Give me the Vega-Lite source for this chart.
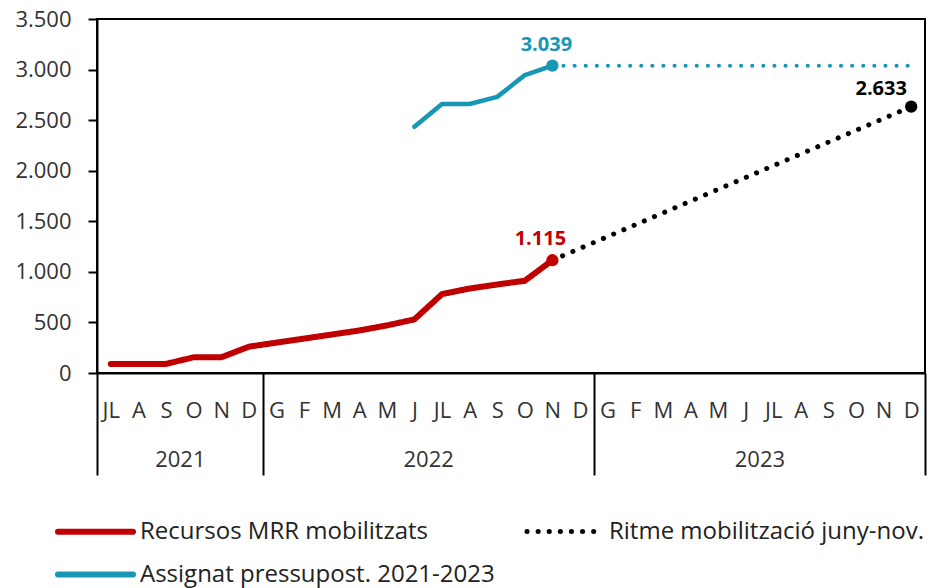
{
  "$schema": "https://vega.github.io/schema/vega-lite/v6.json",
  "width": 828,
  "height": 354,
  "autosize": {"type": "none"},
  "padding": {"left": 97, "top": 19, "right": 5, "bottom": 215},
  "config": {
    "font": "Open Sans",
    "locale": {"number": {"decimal": ",", "thousands": ".", "grouping": [3], "currency": ["", " €"]}},
    "view": {"stroke": "black", "strokeWidth": 2},
    "axis": {"labelFont": "Open Sans", "labelFontSize": 22, "labelColor": "#333333", "grid": false},
    "legend": {
      "labelFont": "Open Sans", "labelFontSize": 24, "labelColor": "#222222", "labelLimit": 600,
      "symbolType": "stroke", "symbolSize": 5625, "symbolStrokeWidth": 6, "labelOffset": 4
    }
  },
  "datasets": {
    "main": [
      {"m": 0, "s": "Recursos MRR mobilitzats", "v": 90},
      {"m": 1, "s": "Recursos MRR mobilitzats", "v": 90},
      {"m": 2, "s": "Recursos MRR mobilitzats", "v": 90},
      {"m": 3, "s": "Recursos MRR mobilitzats", "v": 155},
      {"m": 4, "s": "Recursos MRR mobilitzats", "v": 155},
      {"m": 5, "s": "Recursos MRR mobilitzats", "v": 260},
      {"m": 6, "s": "Recursos MRR mobilitzats", "v": 300},
      {"m": 7, "s": "Recursos MRR mobilitzats", "v": 340},
      {"m": 8, "s": "Recursos MRR mobilitzats", "v": 380},
      {"m": 9, "s": "Recursos MRR mobilitzats", "v": 420},
      {"m": 10, "s": "Recursos MRR mobilitzats", "v": 470},
      {"m": 11, "s": "Recursos MRR mobilitzats", "v": 530},
      {"m": 12, "s": "Recursos MRR mobilitzats", "v": 780},
      {"m": 13, "s": "Recursos MRR mobilitzats", "v": 835},
      {"m": 14, "s": "Recursos MRR mobilitzats", "v": 875},
      {"m": 15, "s": "Recursos MRR mobilitzats", "v": 912},
      {"m": 16, "s": "Recursos MRR mobilitzats", "v": 1115},
      {"m": 11, "s": "Assignat pressupost. 2021-2023", "v": 2435},
      {"m": 12, "s": "Assignat pressupost. 2021-2023", "v": 2660},
      {"m": 13, "s": "Assignat pressupost. 2021-2023", "v": 2660},
      {"m": 14, "s": "Assignat pressupost. 2021-2023", "v": 2730},
      {"m": 15, "s": "Assignat pressupost. 2021-2023", "v": 2945},
      {"m": 16, "s": "Assignat pressupost. 2021-2023", "v": 3039},
      {"m": 16, "s": "Ritme mobilització juny-nov.", "v": 1115},
      {"m": 29, "s": "Ritme mobilització juny-nov.", "v": 2633}
    ],
    "ext": [
      {"m": 16, "v": 3039},
      {"m": 29, "v": 3039}
    ]
  },
  "resolve": {"axis": {"x": "independent"}},
  "layer": [
    {
      "data": {"name": "main"},
      "transform": [{"filter": "datum.s != 'Assignat pressupost. 2021-2023'"}],
      "mark": {"type": "line", "strokeCap": "round", "strokeJoin": "round"},
      "encoding": {
        "x": {
          "field": "m", "type": "quantitative", "title": null,
          "scale": {"domain": [-0.5, 29.5], "nice": false, "zero": false},
          "axis": {
            "orient": "bottom",
            "values": [0,1,2,3,4,5,6,7,8,9,10,11,12,13,14,15,16,17,18,19,20,21,22,23,24,25,26,27,28,29],
            "labelExpr": "['JL','A','S','O','N','D','G','F','M','A','M','J','JL','A','S','O','N','D','G','F','M','A','M','J','JL','A','S','O','N','D'][datum.value]",
            "ticks": false, "domain": true, "domainColor": "black", "domainWidth": 2,
            "labelPadding": 27, "labelOverlap": false, "labelFlush": false, "labelBound": false
          }
        },
        "y": {
          "field": "v", "type": "quantitative", "title": null,
          "scale": {"domain": [0, 3500], "nice": false},
          "axis": {
            "values": [0, 500, 1000, 1500, 2000, 2500, 3000, 3500],
            "format": ",d", "tickSize": 9, "tickWidth": 2, "tickColor": "black",
            "domainColor": "black", "domainWidth": 2, "labelPadding": 17
          }
        },
        "color": {
          "field": "s", "type": "nominal",
          "scale": {
            "domain": ["Recursos MRR mobilitzats", "Ritme mobilització juny-nov."],
            "range": ["#c00000", "#000000"]
          },
          "legend": {
            "orient": "none", "legendX": -42, "legendY": 472, "columns": 2, "direction": "horizontal",
            "columnPadding": 89, "title": null,
            "encode": {"symbols": {"update": {"strokeCap": {"value": "round"}, "strokeWidth": {"value": 6}}}}
          }
        },
        "strokeDash": {
          "field": "s", "type": "nominal",
          "scale": {
            "domain": ["Recursos MRR mobilitzats", "Ritme mobilització juny-nov."],
            "range": [[1, 0], [0.1, 11]]
          }
        },
        "strokeWidth": {
          "field": "s", "type": "nominal",
          "scale": {
            "domain": ["Recursos MRR mobilitzats", "Ritme mobilització juny-nov."],
            "range": [6, 5]
          },
          "legend": null
        }
      }
    },
    {
      "data": {"name": "main"},
      "transform": [{"filter": "datum.s == 'Assignat pressupost. 2021-2023'"}],
      "mark": {"type": "line", "strokeCap": "round", "strokeJoin": "round", "strokeWidth": 4.5},
      "encoding": {
        "x": {"field": "m", "type": "quantitative", "axis": null},
        "y": {"field": "v", "type": "quantitative", "title": null},
        "stroke": {
          "field": "s", "type": "nominal",
          "scale": {"domain": ["Assignat pressupost. 2021-2023"], "range": ["#1897b5"]},
          "legend": {
            "orient": "none", "legendX": -42, "legendY": 515, "title": null,
            "encode": {"symbols": {"update": {"strokeCap": {"value": "round"}}}}
          }
        }
      }
    },
    {
      "data": {"name": "ext"},
      "mark": {"type": "line", "color": "#1897b5", "strokeWidth": 4, "strokeDash": [0.1, 11], "strokeCap": "round"},
      "encoding": {
        "x": {
          "field": "m", "type": "quantitative", "title": null,
          "scale": {"domain": [-0.5, 29.5], "nice": false, "zero": false},
          "axis": {
            "orient": "bottom", "values": [2.5, 11.5, 23.5],
            "labelExpr": "datum.value < 5 ? '2021' : datum.value < 15 ? '2022' : '2023'",
            "ticks": false, "domain": false, "labelPadding": 76,
            "labelOverlap": false, "labelFlush": false, "labelBound": false
          }
        },
        "y": {"field": "v", "type": "quantitative", "title": null}
      }
    },
    {
      "data": {"name": "main"},
      "transform": [{"filter": "(datum.m == 16 && datum.s != 'Ritme mobilització juny-nov.') || datum.m == 29"}],
      "mark": {"type": "circle", "size": 150, "opacity": 1},
      "encoding": {
        "x": {
          "field": "m", "type": "quantitative", "title": null,
          "scale": {"domain": [-0.5, 29.5], "nice": false, "zero": false},
          "axis": {
            "orient": "bottom", "values": [-0.5, 5.5, 17.5, 29.5],
            "labels": false, "ticks": true, "tickSize": 102, "tickWidth": 2, "tickColor": "black",
            "domain": false
          }
        },
        "y": {"field": "v", "type": "quantitative", "title": null},
        "fill": {
          "field": "s", "type": "nominal",
          "scale": {
            "domain": ["Recursos MRR mobilitzats", "Ritme mobilització juny-nov.", "Assignat pressupost. 2021-2023"],
            "range": ["#c00000", "#000000", "#1897b5"]
          },
          "legend": null
        }
      }
    },
    {
      "data": {"name": "main"},
      "transform": [{"filter": "datum.m == 16 && datum.s == 'Recursos MRR mobilitzats'"}],
      "mark": {"type": "text", "color": "#c00000", "fontWeight": "bold", "fontSize": 20, "dx": -12, "dy": -21},
      "encoding": {
        "x": {"field": "m", "type": "quantitative", "axis": null},
        "y": {"field": "v", "type": "quantitative"},
        "text": {"field": "v", "type": "quantitative", "format": ",d"}
      }
    },
    {
      "data": {"name": "main"},
      "transform": [{"filter": "datum.m == 16 && datum.s == 'Assignat pressupost. 2021-2023'"}],
      "mark": {"type": "text", "color": "#1897b5", "fontWeight": "bold", "fontSize": 20, "dx": -6, "dy": -21},
      "encoding": {
        "x": {"field": "m", "type": "quantitative", "axis": null},
        "y": {"field": "v", "type": "quantitative"},
        "text": {"field": "v", "type": "quantitative", "format": ",d"}
      }
    },
    {
      "data": {"name": "main"},
      "transform": [{"filter": "datum.m == 29"}],
      "mark": {"type": "text", "color": "#000000", "fontWeight": "bold", "fontSize": 20, "dx": -30, "dy": -18},
      "encoding": {
        "x": {"field": "m", "type": "quantitative", "axis": null},
        "y": {"field": "v", "type": "quantitative"},
        "text": {"field": "v", "type": "quantitative", "format": ",d"}
      }
    }
  ]
}
